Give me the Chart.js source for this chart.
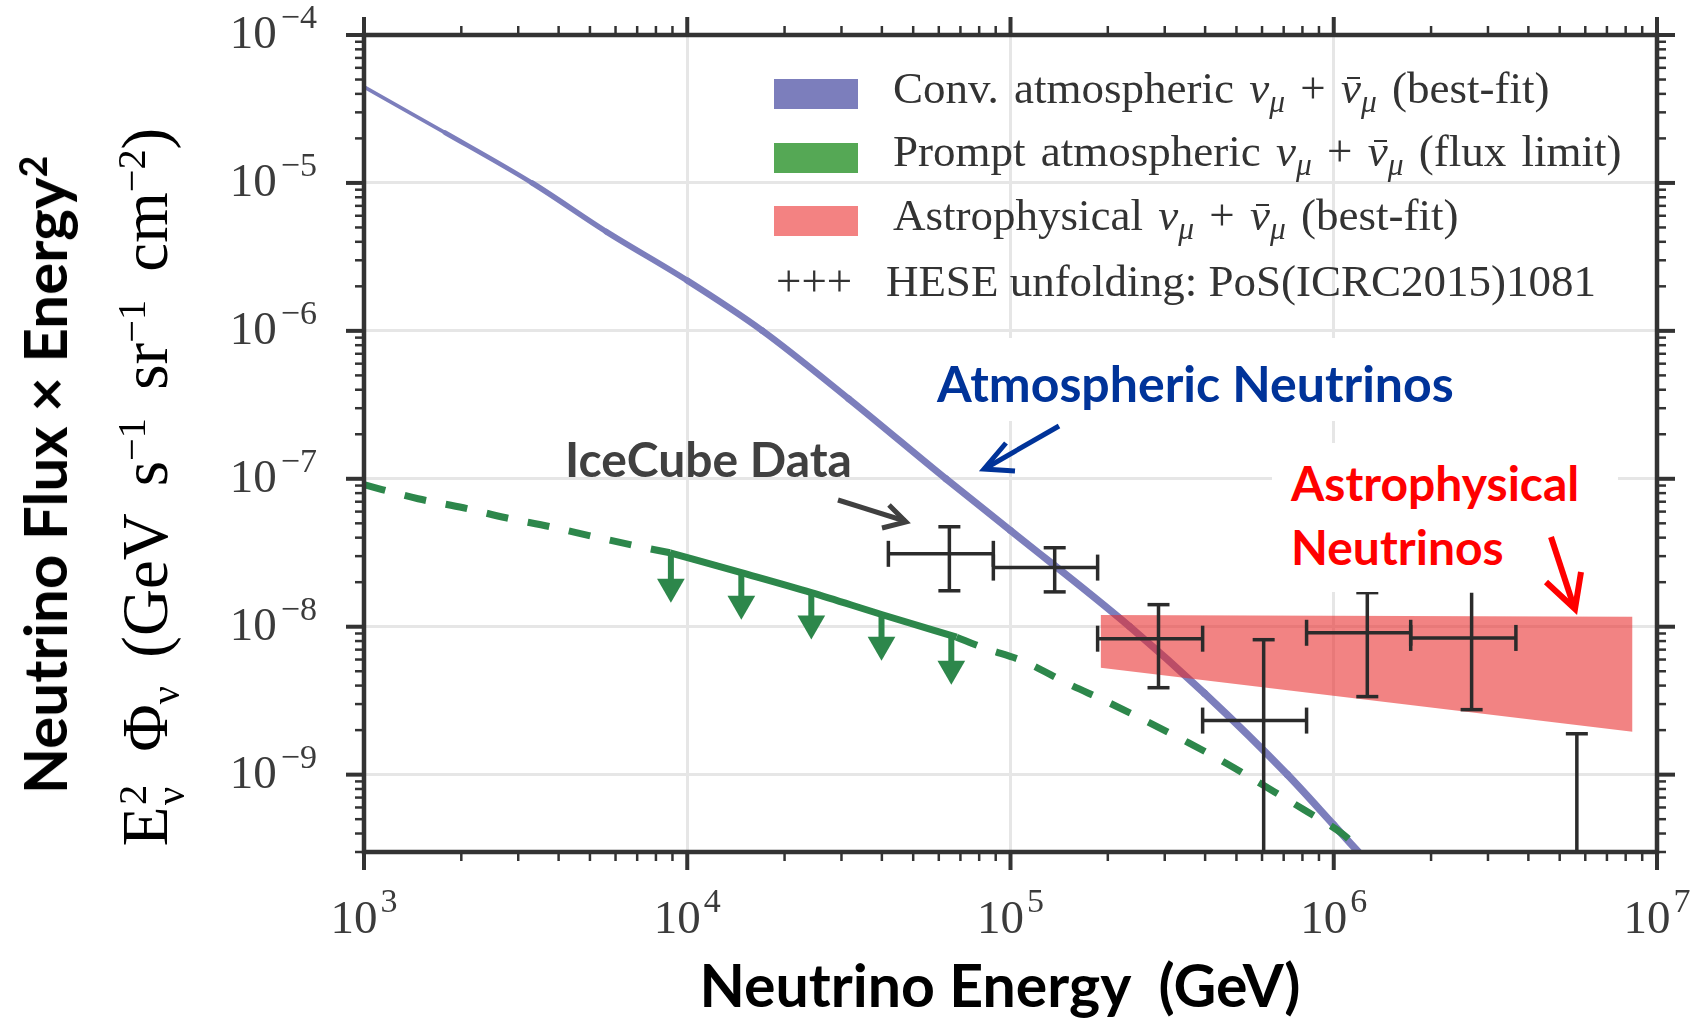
<!DOCTYPE html>
<html>
<head>
<meta charset="utf-8">
<script src="https://cdn.jsdelivr.net/npm/chart.js@4.4.1/dist/chart.umd.min.js"></script>
<style>
  html, body { margin: 0; padding: 0; background: #fff; }
  #wrap { position: relative; width: 1704px; height: 1021px; overflow: hidden; }
  #chart { position: absolute; left: 0; top: 0; }
  .ov { position: absolute; white-space: nowrap; }
  .sans { font-family: Lato, "Open Sans", sans-serif; font-weight: 700; line-height: 1.2; }
  .serif { font-family: "Liberation Serif", "DejaVu Serif", serif; line-height: 1.107; color: #333; }
  .patch { position: absolute; width: 84px; height: 30px; }
  .leg { font-size: 45px; word-spacing: 4px; }
  .leg sub { font-size: 0.7em; vertical-align: 0; position: relative; top: 0.28em; line-height: 0; }
  .bar { position: relative; }
  .bar::before { content: ''; position: absolute; left: 0.14em; right: 0.02em; top: 0.32em; border-top: 0.05em solid currentColor; }
  .stack { display: inline-block; vertical-align: -0.42em; font-size: 0.62em; line-height: 0.95; margin: 0 0.12em 0 0.04em; }
  .stack span { display: block; }
  .sup { font-size: 0.62em; position: relative; top: -0.55em; line-height: 0; }
  .sub { font-size: 0.62em; position: relative; top: 0.3em; line-height: 0; }
  svg { position: absolute; left: 0; top: 0; pointer-events: none; }
</style>
</head>
<body>
<div id="wrap">
  <canvas id="chart" width="1704" height="1021"></canvas>

  <!-- legend -->
  <div class="patch" style="left:774px;top:79px;background:#7c7ebc"></div>
  <div class="patch" style="left:774px;top:143px;background:#55a855"></div>
  <div class="patch" style="left:774px;top:206px;background:#f38282"></div>
  <div class="ov serif leg" style="left:893px;top:64px">Conv. atmospheric <i>ν</i><sub><i>μ</i></sub> + <i class="bar">ν</i><sub><i>μ</i></sub> (best-fit)</div>
  <div class="ov serif leg" style="left:893px;top:127px">Prompt atmospheric <i>ν</i><sub><i>μ</i></sub> + <i class="bar">ν</i><sub><i>μ</i></sub> (flux limit)</div>
  <div class="ov serif leg" style="left:893px;top:191px">Astrophysical <i>ν</i><sub><i>μ</i></sub> + <i class="bar">ν</i><sub><i>μ</i></sub> (best-fit)</div>
  <div class="ov serif leg" style="left:776px;top:257px;word-spacing:0">+++&nbsp;&nbsp; HESE unfolding: PoS(ICRC2015)1081</div>

  <!-- annotations -->
  <div class="ov sans" style="left:937px;top:338px;font-size:50px;color:#003399;background:#fff;padding:15px 10px 8px 0">Atmospheric Neutrinos</div>
  <div class="ov sans" style="left:565px;top:430px;font-size:48px;color:#404040">IceCube Data</div>
  <div class="ov sans" style="left:1272px;top:443px;font-size:48px;color:#ff0000;background:#fff;padding:8px 39px 13px 19px;line-height:64px">Astrophysical<br>Neutrinos</div>

  <!-- axis titles -->
  <div class="ov sans" style="left:1000px;top:950px;font-size:59px;color:#000;transform:translateX(-50%)">Neutrino Energy&nbsp; (GeV)</div>
  <div class="ov sans" style="left:44px;top:475px;font-size:60px;color:#000;transform:translate(-50%,-50%) rotate(-90deg)">Neutrino Flux × Energy<span class="sup">2</span></div>
  <div class="ov serif" style="left:150px;top:487px;font-size:65px;color:#000;word-spacing:12px;transform:translate(-50%,-50%) rotate(-90deg)">E<span class="stack"><span>2</span><span>ν</span></span> Φ<span class="sub">ν</span> (GeV s<span class="sup">−1</span> sr<span class="sup">−1</span> cm<span class="sup">−2</span>)</div>

  <svg width="1704" height="1021">
    <g fill="none" stroke-linejoin="miter" stroke-linecap="butt">
      <line x1="1059" y1="426" x2="986" y2="468" stroke="#003399" stroke-width="5"/>
      <polyline points="1006,443 984,469 1015,471" stroke="#003399" stroke-width="5"/>
      <line x1="838" y1="500" x2="905" y2="521" stroke="#404040" stroke-width="5"/>
      <polyline points="889,505 906,522 882,528" stroke="#404040" stroke-width="5"/>
      <line x1="1551" y1="537" x2="1574" y2="607" stroke="#ff0000" stroke-width="6"/>
      <polyline points="1546,582 1575,609 1581,572" stroke="#ff0000" stroke-width="6"/>
    </g>
  </svg>
</div>

<script>
// conventional atmospheric flux (best fit)
const convE    = [1e3, 1.78e3, 3.31e3, 5.62e3, 1e4, 1.71e4, 3.16e4, 6.31e4, 1e5, 2.34e5, 3.98e5, 7.19e5, 1e6, 1.2e6];
const convFlux = [4.46e-5, 2.19e-5, 1.0e-5, 4.68e-6, 2.19e-6, 1.0e-6, 3.47e-7, 1.0e-7, 4.47e-8, 1.0e-8, 3.55e-9, 1.0e-9, 4.57e-10, 2.95e-10];

// prompt atmospheric: dashed model outside, solid limit inside
const promptLowE     = [1e3, 1.47e3, 2.03e3, 2.75e3, 3.77e3, 5.15e3, 7.1e3, 8.85e3];
const promptLowFlux  = [9.12e-8, 7.33e-8, 6.37e-8, 5.45e-8, 4.74e-8, 4.06e-8, 3.48e-8, 3.16e-8];
const promptHighE    = [6.81e4, 8.24e4, 1.11e5, 1.49e5, 2.0e5, 2.64e5, 3.56e5, 4.66e5, 6.15e5, 8.07e5, 1.07e6, 1.17e6];
const promptHighFlux = [8.5e-9, 7.21e-9, 5.78e-9, 4.17e-9, 3.09e-9, 2.29e-9, 1.64e-9, 1.19e-9, 8.3e-10, 5.81e-10, 3.94e-10, 3.3e-10];
const limitE    = [8.85e3, 1.47e4, 2.42e4, 3.99e4, 6.81e4];
const limitFlux = [3.16e-8, 2.32e-8, 1.70e-8, 1.21e-8, 8.5e-9];
const arrowE    = [8.9e3, 1.47e4, 2.42e4, 3.99e4, 6.56e4];
const arrowTop  = [3.21e-8, 2.32e-8, 1.70e-8, 1.21e-8, 8.55e-9];
const arrowHead = [1.86e-8, 1.43e-8, 1.05e-8, 7.55e-9, 5.2e-9];

// astrophysical best-fit band
const astroE  = [1.9e5, 8.4e6];
const astroHi = [1.2e-8, 1.17e-8];
const astroLo = [5.28e-9, 1.95e-9];

// HESE unfolding (null lower flux = runs off the bottom of the plot)
const heseE      = [6.47e4, 1.37e5, 2.87e5, 6.07e5, 1.27e6, 2.67e6, 5.65e6];
const heseLoE    = [4.19e4, 8.85e4, 1.86e5, 3.93e5, 8.24e5, 1.73e6, null];
const heseHiE    = [8.85e4, 1.86e5, 3.93e5, 8.24e5, 1.73e6, 3.66e6, null];
const heseFlux   = [3.11e-8, 2.51e-8, 8.3e-9, 2.32e-9, 9.1e-9, 8.4e-9, null];
const heseFluxLo = [1.75e-8, 1.72e-8, 3.87e-9, null, 3.37e-9, 2.75e-9, null];
const heseFluxHi = [4.74e-8, 3.42e-8, 1.41e-8, 8.17e-9, 1.7e-8, 1.7e-8, 1.89e-9];
const heseTopCap = [true, true, true, true, true, false, true];

const xDecades = [3, 4, 5, 6, 7];
const yDecades = [-9, -8, -7, -6, -5, -4];
const X_MIN = 1e3, X_MAX = 1e7, Y_MIN = 3e-10, Y_MAX = 1e-4;

const GREEN = '#2d874b';
const INK = '#2b2b2b';

const pts = (xs, ys) => xs.map((x, i) => ({ x, y: ys[i] }));

// error bar pieces, separated by null points
const heseH = [], heseV = [], heseVCaps = [], heseHCaps = [];
heseE.forEach((e, i) => {
  const lo = heseFluxLo[i] ?? Y_MIN;
  heseV.push({ x: e, y: lo }, { x: e, y: heseFluxHi[i] }, { x: e, y: null });
  if (heseTopCap[i]) heseVCaps.push({ x: e, y: heseFluxHi[i] });
  if (heseFluxLo[i] != null) heseVCaps.push({ x: e, y: heseFluxLo[i] });
  if (heseLoE[i] != null) {
    heseH.push({ x: heseLoE[i], y: heseFlux[i] }, { x: heseHiE[i], y: heseFlux[i] }, { x: heseHiE[i], y: null });
    heseHCaps.push({ x: heseLoE[i], y: heseFlux[i] }, { x: heseHiE[i], y: heseFlux[i] });
  }
});
const stems = [];
arrowE.forEach((e, i) => stems.push({ x: e, y: arrowTop[i] }, { x: e, y: arrowHead[i] }, { x: e, y: null }));

// the best-fit band thickens with energy
const convWidth = (c) => {
  const lx = (Math.log10(c.p0.parsed.x) + Math.log10(c.p1.parsed.x)) / 2 - 3;
  return 3.2 + 4.3 * (1 - Math.exp(-1.2 * lx));
};

const base = { type: 'line', pointRadius: 0, spanGaps: false, fill: false };

const datasets = [
  { ...base, data: heseH, borderColor: INK, borderWidth: 3.5 },
  { ...base, data: heseV, borderColor: INK, borderWidth: 3.5 },
  { ...base, data: heseVCaps, showLine: false, pointStyle: 'line', pointRadius: 11, pointBorderWidth: 3.5, pointBorderColor: INK },
  { ...base, data: heseHCaps, showLine: false, pointStyle: 'line', pointRadius: 13, pointRotation: 90, pointBorderWidth: 3.5, pointBorderColor: INK },
  { ...base, data: pts(arrowE, arrowHead), showLine: false, pointStyle: 'triangle', pointRotation: 180, pointRadius: 16, pointBorderWidth: 0, pointBackgroundColor: GREEN },
  { ...base, data: stems, borderColor: GREEN, borderWidth: 6 },
  { ...base, data: pts(limitE, limitFlux), borderColor: GREEN, borderWidth: 7, cubicInterpolationMode: 'monotone' },
  { ...base, data: pts(promptLowE, promptLowFlux), borderColor: GREEN, borderWidth: 7, borderDash: [22, 20], cubicInterpolationMode: 'monotone' },
  { ...base, data: pts(promptHighE, promptHighFlux), borderColor: GREEN, borderWidth: 7, borderDash: [22, 20], cubicInterpolationMode: 'monotone' },
  { ...base, data: pts(astroE, astroHi), borderWidth: 0, borderColor: 'rgba(0,0,0,0)', backgroundColor: 'rgba(233,42,42,0.58)', fill: '+1' },
  { ...base, data: pts(astroE, astroLo), borderWidth: 0, borderColor: 'rgba(0,0,0,0)' },
  { ...base, data: pts(convE, convFlux), borderColor: '#7c7ebc', borderWidth: 6, borderCapStyle: 'round', cubicInterpolationMode: 'monotone',
    segment: { borderWidth: convWidth } },
];

const decadeTicks = (list) => (axis) => { axis.ticks = list.map((p) => ({ value: Math.pow(10, p) })); };

// frame with outward major/minor ticks on all four sides, plus 10^n labels
const frame = {
  id: 'frame',
  afterDraw(chart) {
    const { ctx, chartArea: a, scales: { x, y } } = chart;
    ctx.save();
    ctx.strokeStyle = '#333';
    const seg = (x0, y0, x1, y1, w) => { ctx.lineWidth = w; ctx.beginPath(); ctx.moveTo(x0, y0); ctx.lineTo(x1, y1); ctx.stroke(); };
    for (let e = 3; e <= 7; e++) {
      for (let k = 1; k <= 9; k++) {
        const v = k * Math.pow(10, e);
        if (v > X_MAX * 1.0001) break;
        const px = x.getPixelForValue(v);
        const len = k === 1 ? 18 : 9, w = k === 1 ? 4 : 2.5;
        seg(px, a.bottom, px, a.bottom + len, w);
        seg(px, a.top, px, a.top - len, w);
      }
    }
    for (let e = -10; e <= -4; e++) {
      for (let k = 1; k <= 9; k++) {
        const v = k * Math.pow(10, e);
        if (v < Y_MIN * 0.9999) continue;
        if (v > Y_MAX * 1.0001) break;
        const py = y.getPixelForValue(v);
        const len = k === 1 ? 18 : 9, w = k === 1 ? 4 : 2.5;
        seg(a.left, py, a.left - len, py, w);
        seg(a.right, py, a.right + len, py, w);
      }
    }
    ctx.lineWidth = 4.5;
    ctx.strokeRect(a.left, a.top, a.right - a.left, a.bottom - a.top);

    // tick labels
    ctx.fillStyle = '#3b3b3b';
    ctx.textBaseline = 'alphabetic';
    const big = '47px "Liberation Serif", serif', small = '34px "Liberation Serif", serif';
    const label = (p) => {
      ctx.font = big; const w1 = ctx.measureText('10').width;
      const ex = p < 0 ? '\u2212' + (-p) : String(p);
      ctx.font = small; const w2 = ctx.measureText(ex).width;
      return { ex, w1, w2 };
    };
    xDecades.forEach((p) => {
      const { ex, w1, w2 } = label(p);
      const px = x.getPixelForValue(Math.pow(10, p));
      const x0 = px - (w1 + 3 + w2) / 2, by = a.bottom + 81;
      ctx.textAlign = 'left';
      ctx.font = big; ctx.fillText('10', x0, by);
      ctx.font = small; ctx.fillText(ex, x0 + w1 + 3, by - 21);
    });
    yDecades.forEach((p) => {
      const { ex, w1, w2 } = label(p);
      const py = y.getPixelForValue(Math.pow(10, p));
      const right = a.left - 47, by = py + 13;
      ctx.textAlign = 'left';
      ctx.font = small; ctx.fillText(ex, right - w2, by - 20);
      ctx.font = big; ctx.fillText('10', right - w2 - 4 - w1, by);
    });
    ctx.restore();
  },
};

new Chart(document.getElementById('chart'), {
  type: 'line',
  data: { datasets },
  options: {
    responsive: false, animation: false, events: [],
    layout: { padding: { left: 364, right: 47, top: 35, bottom: 169 } },
    plugins: { legend: { display: false }, tooltip: { enabled: false } },
    scales: {
      x: {
        type: 'logarithmic', min: X_MIN, max: X_MAX, afterBuildTicks: decadeTicks(xDecades),
        ticks: { display: false }, grid: { color: '#e6e6e6', lineWidth: 3, drawTicks: false }, border: { display: false },
      },
      y: {
        type: 'logarithmic', min: Y_MIN, max: Y_MAX, afterBuildTicks: decadeTicks(yDecades),
        ticks: { display: false }, grid: { color: '#e6e6e6', lineWidth: 3, drawTicks: false }, border: { display: false },
      },
    },
  },
  plugins: [frame],
});
</script>
</body>
</html>
